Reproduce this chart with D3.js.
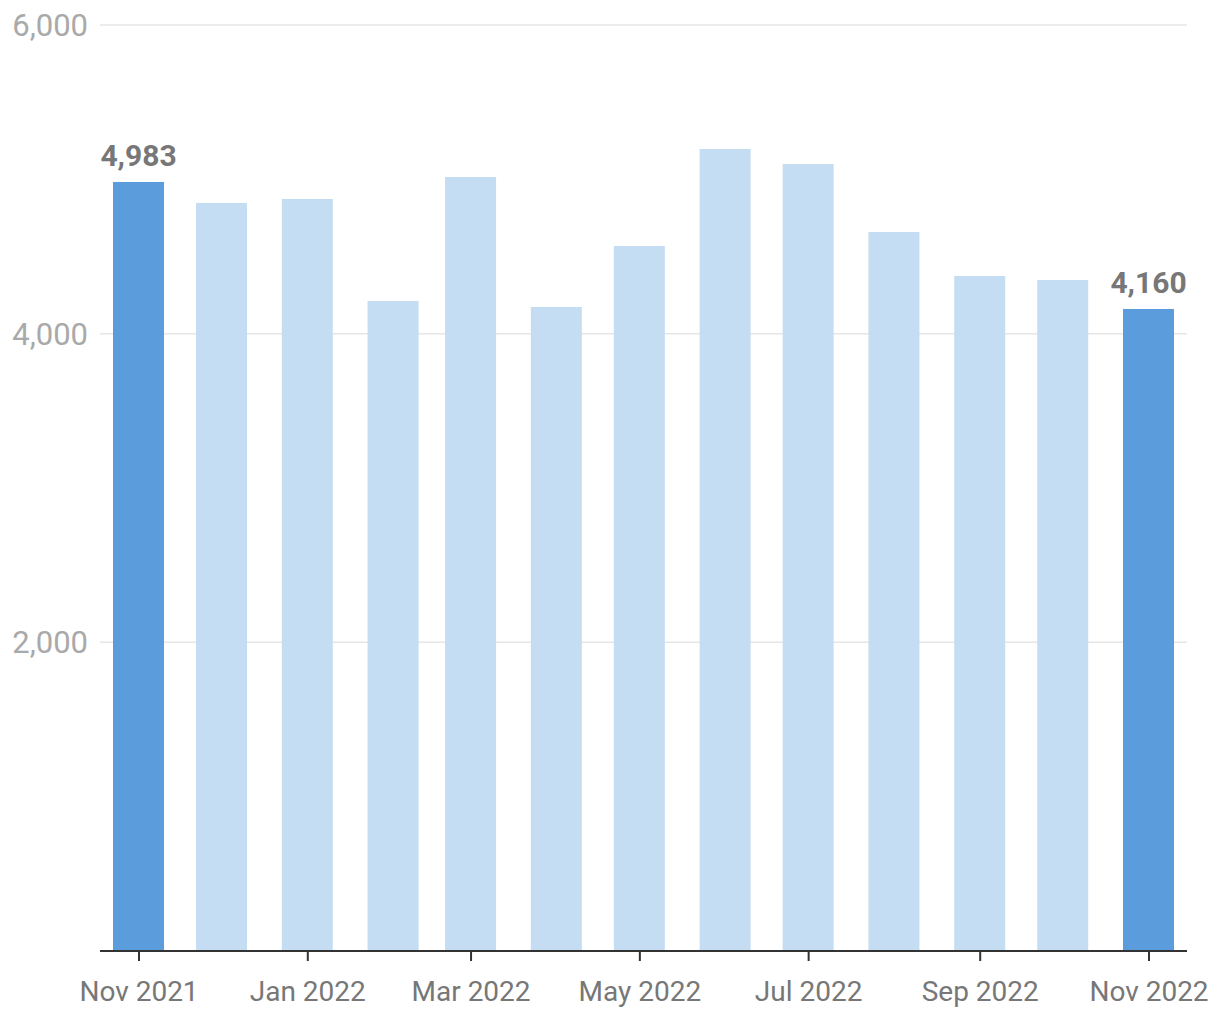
<!DOCTYPE html>
<html>
<head>
<meta charset="utf-8">
<script src="https://cdn.jsdelivr.net/npm/d3@7"></script>
<style>
  html, body { margin: 0; padding: 0; background: #fff; }
  svg { display: block; font-family: Roboto, "Open Sans", sans-serif; }
</style>
</head>
<body>
<svg id="chart" width="1220" height="1020"></svg>
<script>
// ---- data ----
const months = ["2021-11","2021-12","2022-01","2022-02","2022-03","2022-04","2022-05","2022-06","2022-07","2022-08","2022-09","2022-10","2022-11"];
const values = [4983, 4847, 4873, 4212, 5015, 4173, 4568, 5197, 5099, 4659, 4374, 4348, 4160];
const highlighted = ["2021-11", "2022-11"];
const yTicks = [2000, 4000, 6000];
const xTickMonths = ["2021-11","2022-01","2022-03","2022-05","2022-07","2022-09","2022-11"];

(function () {
const parse = d3.utcParse("%Y-%m");
const data = months.map((m, i) => ({ month: m, date: parse(m), value: values[i] }));

const svg = d3.select("#chart");
const mLeft = 100, mRight = 1187, mTop = 25, mBottom = 951;
const barW = 51;

const x = d3.scaleUtc()
  .domain([parse("2021-11"), parse("2022-11")])
  .range([138.5, 1148.5]);
const y = d3.scaleLinear().domain([0, 6000]).range([mBottom, mTop]);

// gridlines
svg.append("g").selectAll("line").data(yTicks).join("line")
  .attr("x1", mLeft).attr("x2", mRight)
  .attr("y1", d => y(d)).attr("y2", d => y(d))
  .attr("stroke", "#e6e6e6").attr("stroke-width", 1.5);

// y labels
svg.append("g").selectAll("text").data(yTicks).join("text")
  .attr("x", 88).attr("y", d => y(d))
  .attr("dy", "0.36em")
  .attr("text-anchor", "end")
  .attr("fill", "#a9a9a9")
  .attr("font-size", 31)
  .text(d => d3.format(",")(d));

// bars
svg.append("g").selectAll("rect").data(data).join("rect")
  .attr("x", d => x(d.date) - barW / 2)
  .attr("width", barW)
  .attr("y", d => y(d.value))
  .attr("height", d => y(0) - y(d.value))
  .attr("fill", d => highlighted.includes(d.month) ? "#5b9ddc" : "#c5ddf2");

// value labels
svg.append("g").selectAll("text").data(data.filter(d => highlighted.includes(d.month))).join("text")
  .attr("x", d => x(d.date))
  .attr("y", d => y(d.value) - 16)
  .attr("text-anchor", "middle")
  .attr("fill", "#777")
  .attr("font-size", 30)
  .attr("font-weight", 700)
  .text(d => d3.format(",")(d.value));

// x axis
const xAxis = d3.axisBottom(x)
  .tickValues(xTickMonths.map(parse))
  .tickFormat(d3.utcFormat("%b %Y"))
  .tickSize(10)
  .tickPadding(20);
const gx = svg.append("g").attr("transform", `translate(0,${mBottom})`).call(xAxis);
gx.select(".domain").remove();
gx.selectAll(".tick line").attr("stroke", "#333").attr("stroke-width", 2);
gx.selectAll(".tick text")
  .attr("fill", "#777")
  .attr("font-size", 28)
  .attr("font-family", "Roboto, 'Open Sans', sans-serif");
svg.append("line")
  .attr("x1", mLeft).attr("x2", mRight)
  .attr("y1", mBottom).attr("y2", mBottom)
  .attr("stroke", "#333").attr("stroke-width", 2);
})();
</script>
</body>
</html>
